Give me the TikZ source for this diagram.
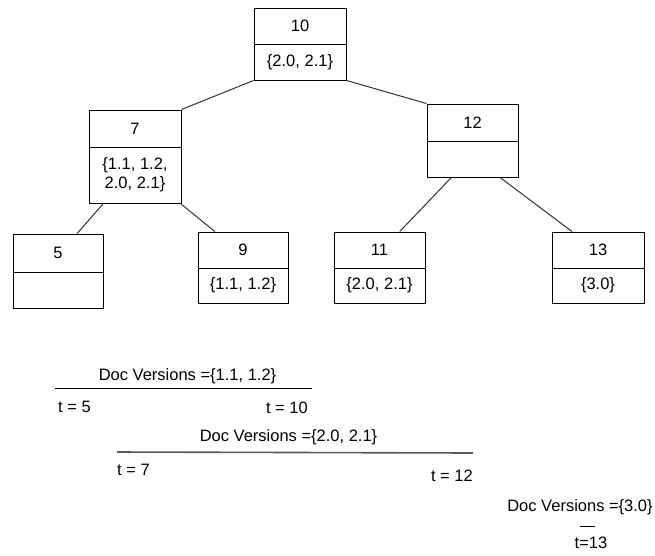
\documentclass[tikz,border=0pt]{standalone}
\usepackage{fontspec}
\setmainfont{Liberation Sans}
\usetikzlibrary{calc}
\begin{document}
\begin{tikzpicture}[x=1pt,y=-1pt,
  cell/.style={draw=black, line width=1pt, inner sep=0pt, align=center,
    font=\fontsize{16.5}{19}\selectfont},
  edge/.style={draw=black!80, line width=1pt},
  lbl/.style={inner sep=0pt, font=\fontsize{16.5}{19}\selectfont},
  span/.style={line width=1pt}]
\useasboundingbox (0,0) rectangle (655,555);

% root
\node[cell, minimum width=92pt, minimum height=36pt] (t10) at (300,26) {10};
\node[cell, minimum width=92pt, minimum height=36pt] (b10) at (300,62) {\{2.0, 2.1\}};
% second level
\node[cell, minimum width=92pt, minimum height=37pt] (t7) at (135,128.5) {7};
\node[cell, minimum width=92pt, minimum height=56pt] (b7) at (135,175) {\{1.1, 1.2,\\2.0, 2.1\}};
\node[cell, minimum width=91pt, minimum height=37pt] (t12) at (472.5,122.5) {12};
\node[cell, minimum width=91pt, minimum height=36pt] (b12) at (472.5,159) {};
% leaves
\node[cell, minimum width=90pt, minimum height=38pt] (t5) at (58,253) {5};
\node[cell, minimum width=90pt, minimum height=36pt] (b5) at (58,290) {};
\node[cell, minimum width=90pt, minimum height=36pt] (t9) at (243,250) {9};
\node[cell, minimum width=90pt, minimum height=35pt] (b9) at (243,285.5) {\{1.1, 1.2\}};
\node[cell, minimum width=91pt, minimum height=36pt] (t11) at (379.5,250) {11};
\node[cell, minimum width=91pt, minimum height=35pt] (b11) at (379.5,285.5) {\{2.0, 2.1\}};
\node[cell, minimum width=92pt, minimum height=36pt] (t13) at (598,250) {13};
\node[cell, minimum width=92pt, minimum height=35pt] (b13) at (598,285.5) {\{3.0\}};

% tree edges
\draw[edge] (b10.south west) -- (t7.north east);
\draw[edge] (b10.south east) -- (t12.north west);
\draw[edge] ($(b7.south west)!0.16!(b7.south east)$) -- ($(t5.north west)!0.71!(t5.north east)$);
\draw[edge] ($(b7.south west)!0.99!(b7.south east)$) -- ($(t9.north west)!0.19!(t9.north east)$);
\draw[edge] ($(b12.south west)!0.27!(b12.south east)$) -- ($(t11.north west)!0.72!(t11.north east)$);
\draw[edge] ($(b12.south west)!0.80!(b12.south east)$) -- ($(t13.north west)!0.22!(t13.north east)$);

% version intervals
\node[lbl] (v1) at (187.5,376) {Doc Versions =\{1.1, 1.2\}};
\coordinate (a1) at (55,388);
\coordinate (z1) at (312,388);
\draw[span, black] (a1) -- (z1);
\node[lbl, anchor=west] (s1) at (58,407) {t = 5};
\node[lbl, anchor=east] (e1) at (308,408) {t = 10};

\node[lbl] (v2) at (288.5,437) {Doc Versions =\{2.0, 2.1\}};
\coordinate (a2) at (117,452);
\coordinate (z2) at (473,453);
\draw[span, black!65, line width=1.6pt] (a2) -- (z2);
\node[lbl, anchor=west] (s2) at (117,470) {t = 7};
\node[lbl, anchor=east] (e2) at (473,476) {t = 12};

\node[lbl] (v3) at (580,507) {Doc Versions =\{3.0\}};
\coordinate (a3) at (580,526);
\coordinate (z3) at (595,526);
\draw[span, black] (a3) -- (z3);
\node[lbl] (e3) at (591,543) {t=13};
\end{tikzpicture}
\end{document}
